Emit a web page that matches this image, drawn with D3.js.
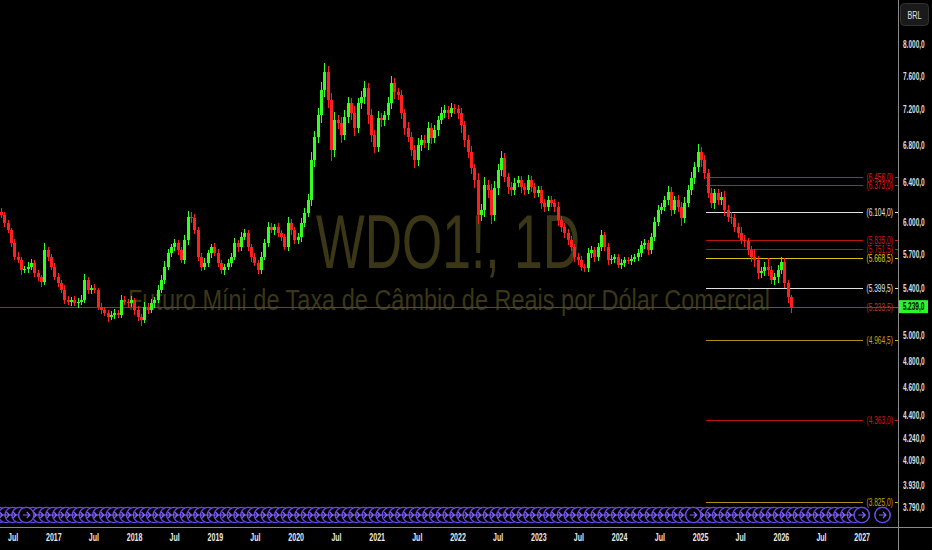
<!DOCTYPE html>
<html>
<head>
<meta charset="utf-8">
<script src="https://cdn.jsdelivr.net/npm/d3@7"></script>
<style>
html, body { margin: 0; padding: 0; background: #000; overflow: hidden; }
svg { display: block; }
text { font-family: "Liberation Sans", Arial, sans-serif; }
</style>
</head>
<body>
<svg id="chart" width="932" height="550"></svg>
<script>
// WDO1! daily at ~15 day steps
const closes = [
6075,5997,5929,5807,5677,5649,5559,5570,5586,5622,
5532,5497,5453,5741,5677,5586,5497,5444,5383,5296,
5279,5296,5271,5279,5296,5470,5383,5400,5383,5237,
5212,5187,5153,5170,5187,5170,5296,5279,5271,5296,
5212,5153,5128,5237,5212,5271,5296,5383,5470,5586,
5713,5769,5807,5741,5649,5835,6055,6040,5929,5677,
5586,5622,5713,5769,5713,5622,5559,5586,5622,5677,
5807,5769,5863,5901,5769,5677,5622,5559,5677,5807,
5958,5929,5958,5901,5863,5769,5997,5929,5835,5863,
5997,6095,6223,6638,6889,7138,7432,7650,7313,6746,
7080,7046,6912,7115,7278,7161,6990,7278,7349,7456,
7138,6912,6779,7103,7080,7138,7278,7516,7408,7373,
7161,6990,6889,6746,6638,6801,6856,6823,6990,6878,
6967,7080,7161,7196,7161,7219,7205,7161,7024,6856,
6724,6553,6427,6075,6124,6376,6325,6075,6345,6532,
6660,6459,6356,6325,6396,6427,6356,6325,6427,6356,
6294,6325,6193,6154,6223,6193,6154,6026,5958,5901,
5835,5769,5677,5649,5586,5577,5713,5741,5677,5769,
5882,5769,5649,5660,5677,5604,5622,5649,5638,5660,
5677,5713,5788,5807,5741,5863,6007,6124,6154,6223,
6305,6124,6223,6154,6046,6193,6325,6448,6564,6724,
6638,6500,6294,6193,6294,6223,6254,6124,6055,6040,
5958,5901,5835,5820,5741,5677,5649,5532,5545,5586,
5559,5470,5497,5559,5631,5444,5322,5239
]
const wickHigh = [
40,25,30,20,35,45,30,25,40,35, 30,25,20,60,30,25,35,30,25,40,
30,25,35,30,45,50,30,25,35,20, 30,25,20,35,30,25,40,30,25,35,
20,30,25,40,30,35,25,45,40,50, 35,30,40,25,30,45,60,50,40,30,
35,45,30,25,40,35,30,25,40,35, 45,30,50,40,25,30,35,30,45,40,
50,35,30,40,25,30,55,35,30,40, 45,50,60,90,70,80,100,110,70,80,
90,60,70,80,70,60,80,60,70,90, 60,70,60,80,60,50,70,90,60,50,
60,50,70,60,50,80,60,50,70,60, 60,50,70,60,50,60,45,50,60,40,
50,60,45,70,60,80,50,60,70,60, 70,50,40,45,50,40,45,40,50,45,
40,45,35,40,45,35,40,45,35,40, 35,40,30,35,40,30,45,35,30,40,
45,30,35,30,25,30,35,25,30,35, 30,35,40,35,30,40,50,45,35,40,
60,45,40,50,45,55,50,60,50,90, 55,50,45,50,40,45,50,60,45,50,
45,40,60,45,35,40,70,35,40,45, 80,35,30,40,45,35,25,20
]
const wickLow = [
30,35,25,40,30,25,45,30,35,25, 35,40,45,25,35,30,25,40,30,35,
25,35,30,40,25,30,35,40,25,30, 35,30,40,25,35,30,25,30,40,35,
45,30,50,25,35,30,40,25,30,35, 30,40,35,45,30,40,50,45,35,40,
40,30,35,45,30,40,35,45,30,35, 30,45,35,30,40,45,30,40,35,30,
40,30,45,35,40,30,35,45,40,35, 50,40,45,60,80,70,90,80,100,120,
80,70,90,60,70,80,90,60,70,80, 100,80,70,60,80,70,60,70,80,60,
70,80,60,70,90,60,70,60,80,70, 60,70,50,60,70,50,60,70,90,80,
70,60,80,90,60,70,80,90,60,70, 60,50,70,60,50,45,60,50,45,55,
50,45,60,50,40,45,50,60,45,50, 45,40,50,45,40,35,40,45,50,40,
35,40,45,35,40,30,35,40,30,35, 30,35,40,35,45,40,35,40,45,40,
50,60,45,55,80,50,45,55,60,50, 70,60,55,50,60,55,50,60,45,55,
50,45,40,55,50,45,60,50,45,40, 50,40,45,50,40,45,50,55
]
const firstDate = new Date(2016, 4, 5)
const stepDays = 15.06
const firstOpen = 6100
const lastPrice = 5239.0

const yTicks = [8000, 7600, 7200, 6800, 6400, 6000, 5700, 5400, 5000, 4800, 4600, 4400, 4240, 4090, 3930, 3790]
const xTickDates = ["2016-07-01","2017-01-01","2017-07-01","2018-01-01","2018-07-01","2019-01-01","2019-07-01",
  "2020-01-01","2020-07-01","2021-01-01","2021-07-01","2022-01-01","2022-07-01","2023-01-01","2023-07-01",
  "2024-01-01","2024-07-01","2025-01-01","2025-07-01","2026-01-01","2026-07-01","2027-01-01"]
const xTickLabels = ["Jul","2017","Jul","2018","Jul","2019","Jul","2020","Jul","2021","Jul","2022",
  "Jul","2023","Jul","2024","Jul","2025","Jul","2026","Jul","2027"]

const levelValues = [6456.0, 6373.0, 6104.0, 5835.0, 5751.5, 5668.5, 5399.5, 5233.5, 4964.5, 4363.0, 3825.0]
const levelKinds = ["red", "red", "white", "darkred", "darkred", "yellow", "white", "brown", "gold", "darkred", "gold"]
const levelFrom = new Date(2025, 0, 28)
const levelTo = new Date(2027, 0, 1)

const eventDates = d3.timeMonth.range(new Date(2016, 4, 1), new Date(2027, 0, 2)).concat([new Date(2027, 3, 5)])
const highlighted = ["2016-09", "2024-12", "2027-01", "2027-04"]

// styles
const kindColor = {
  red: ["#e41010", "#e81c1c"],
  darkred: ["#b81212", "#d01818"],
  white: ["#e0e0e0", "#e6e6e6"],
  yellow: ["#d8c010", "#e0cc1a"],
  gold: ["#b09010", "#c8a81a"],
  brown: ["#a83a1a", "#b83a22"]
}
const upColor = "#33ff22"
const downColor = "#ff2020"
const squeezeK = 0.68

const width = 932, height = 550
const plotRight = 898, axisY = 527

const svg = d3.select('#chart')
svg.append('rect').attr('width', width).attr('height', height).attr('fill', '#000')

const x = d3.scaleTime([new Date(2017, 0, 1), new Date(2027, 0, 1)], [53.3, 861.7])
const y = d3.scaleLog([3790, 8000], [507.3, 44.3])

const brl = d3.formatLocale({decimal: ",", thousands: ".", grouping: [3], currency: ["", ""]}).format(",.1f")

// labels on this chart are drawn narrow
function squeeze(sel, k) {
  sel.each(function () {
    let w = this.getComputedTextLength()
    d3.select(this).attr('textLength', w * k).attr('lengthAdjust', 'spacingAndGlyphs')
  })
}

const candles = closes.map((c, i) => {
  let o = i ? closes[i - 1] : firstOpen
  return {
    date: new Date(firstDate.getTime() + i * stepDays * 864e5),
    open: o, close: c,
    high: Math.max(o, c) + wickHigh[i],
    low: Math.min(o, c) - wickLow[i]
  }
})

// watermark
let wm = svg.append('g').attr('fill', '#3b3716')
wm.append('text').attr('x', 448).attr('y', 268).attr('text-anchor', 'middle')
  .attr('font-size', 76).attr('textLength', 264).attr('lengthAdjust', 'spacingAndGlyphs')
  .text('WDO1!, 1D')
wm.append('text').attr('x', 449).attr('y', 310).attr('text-anchor', 'middle')
  .attr('font-size', 30).attr('textLength', 642).attr('lengthAdjust', 'spacingAndGlyphs')
  .text('Futuro Míni de Taxa de Câmbio de Reais por Dólar Comercial')

// last price line
svg.append('line').attr('x1', 0).attr('x2', plotRight)
  .attr('y1', Math.round(y(lastPrice)) + 0.5).attr('y2', Math.round(y(lastPrice)) + 0.5)
  .attr('stroke', '#1b6e1b').attr('stroke-width', 1)

// levels
let lv = svg.append('g').attr('shape-rendering', 'crispEdges').selectAll('g').data(levelValues).join('g')
  .attr('transform', (d) => `translate(0,${Math.round(y(d)) + 0.5})`)
lv.append('line').attr('x1', x(levelFrom)).attr('x2', x(levelTo) + 1)
  .attr('stroke', (d, i) => kindColor[levelKinds[i]][0]).attr('stroke-width', 1.3)
lv.append('line').attr('x1', 894.5).attr('x2', plotRight)
  .attr('stroke', (d, i) => kindColor[levelKinds[i]][1]).attr('stroke-width', 1)
lv.append('text').attr('x', 866.5).attr('dy', '0.34em').attr('font-size', 10)
  .attr('fill', (d, i) => kindColor[levelKinds[i]][1])
  .text((d) => '(' + brl(d) + ')')
  .call(squeeze, 0.66)

// candles
let cg = svg.append('g').attr('shape-rendering', 'crispEdges')
let cs = cg.selectAll('g').data(candles).join('g')
  .attr('transform', (d) => `translate(${Math.round(x(d.date))},0)`)
cs.append('line').attr('x1', 1.5).attr('x2', 1.5)
  .attr('y1', (d) => y(d.high)).attr('y2', (d) => y(d.low))
  .attr('stroke', (d) => d.close >= d.open ? upColor : downColor)
cs.append('rect').attr('x', 0).attr('width', 3)
  .attr('y', (d) => y(Math.max(d.open, d.close)))
  .attr('height', (d) => Math.max(1, y(Math.min(d.open, d.close)) - y(Math.max(d.open, d.close))))
  .attr('fill', (d) => d.close >= d.open ? upColor : downColor)

// event markers: rings first, arrows on top
let evg = svg.append('g')
let ring = (sel) => sel.append('circle').attr('r', 7.6).attr('fill', '#000').attr('stroke', '#6a48e8').attr('stroke-width', 1.4)
let arrow = (sel) => sel.append('path').attr('d', 'M-3.5,0H3.5M0.5,-3L3.5,0L0.5,3')
  .attr('fill', 'none').attr('stroke', '#8466f4').attr('stroke-width', 1.2)
let evPos = (d) => `translate(${x(d)},515)`
evg.append('g').selectAll('g').data(eventDates).join('g').attr('transform', evPos).call(ring)
evg.append('g').selectAll('g').data(eventDates).join('g').attr('transform', evPos).call(arrow)
let hi = evg.append('g').selectAll('g')
  .data(eventDates.filter((d) => highlighted.includes(d3.timeFormat('%Y-%m')(d)))).join('g')
  .attr('transform', evPos)
hi.call(ring)
hi.call(arrow)

// price axis
svg.append('rect').attr('x', plotRight).attr('y', 0).attr('width', width - plotRight).attr('height', height).attr('fill', '#000')
let ya = svg.append('g').attr('transform', `translate(${plotRight},0)`)
  .call(d3.axisRight(y).tickValues(yTicks).tickFormat(brl).tickSize(0).tickPadding(5))
ya.select('.domain').remove()
ya.selectAll('text').attr('fill', '#dcdcdc').attr('font-size', 10.5).attr('font-weight', 'bold')
  .attr('font-family', null).call(squeeze, 0.62)

// time axis
svg.append('rect').attr('x', 0).attr('y', axisY).attr('width', plotRight).attr('height', height - axisY).attr('fill', '#000')
let xa = svg.append('g').attr('transform', `translate(0,${axisY})`)
  .call(d3.axisBottom(x).tickValues(xTickDates.map((d) => new Date(d + 'T00:00:00'))).tickFormat((d, i) => xTickLabels[i]).tickSize(0).tickPadding(6))
xa.select('.domain').remove()
xa.selectAll('text').attr('fill', '#e8e8e8').attr('font-size', 11).attr('font-weight', 'bold').attr('font-family', null)
  .call(squeeze, 0.64)

svg.append('line').attr('x1', 0).attr('x2', width).attr('y1', axisY + 0.5).attr('y2', axisY + 0.5).attr('stroke', '#8a8a8a')
svg.append('line').attr('x1', plotRight + 0.5).attr('x2', plotRight + 0.5).attr('y1', 0).attr('y2', height).attr('stroke', '#8a8a8a')

// last price tag
svg.append('rect').attr('x', 899).attr('y', y(lastPrice) - 6.5).attr('width', 29).attr('height', 13).attr('fill', '#2bf52b')
svg.append('text').attr('x', 913.5).attr('y', y(lastPrice)).attr('dy', '0.35em').attr('text-anchor', 'middle')
  .attr('font-size', 10.5).attr('font-weight', 'bold').attr('fill', '#000').text(brl(lastPrice)).call(squeeze, 0.62)

// currency button
svg.append('rect').attr('x', 900.5).attr('y', 3.5).attr('width', 28).attr('height', 22).attr('rx', 4)
  .attr('fill', '#1a1a1a').attr('stroke', '#333')
svg.append('text').attr('x', 914.5).attr('y', 15).attr('dy', '0.35em').attr('text-anchor', 'middle')
  .attr('font-size', 11).attr('fill', '#e0e0e0').text('BRL').call(squeeze, 0.66)
</script>
</body>
</html>
